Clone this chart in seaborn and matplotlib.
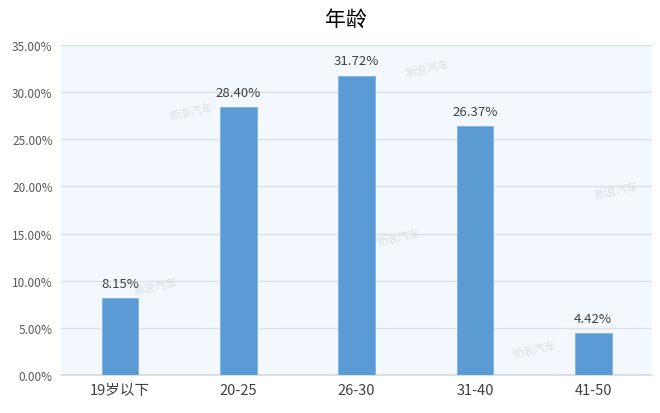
import matplotlib
matplotlib.use('Agg')
import matplotlib.pyplot as plt
import seaborn as sns
import pandas as pd
from matplotlib.ticker import FuncFormatter

# 数据
categories = ['19岁以下', '20-25', '26-30', '31-40', '41-50']
values = [8.15, 28.40, 31.72, 26.37, 4.42]
y_ticks = [0, 5, 10, 15, 20, 25, 30, 35]

sns.set_theme(style='white')
plt.rcParams['font.family'] = ['Noto Sans CJK SC', 'DejaVu Sans']

df = pd.DataFrame({'age': categories, 'pct': values})

fig = plt.figure(figsize=(6.6, 4.14), dpi=100)
ax = fig.add_axes([0.0924, 0.0918, 0.896, 0.797])
ax.set_facecolor('#F3F8FE')

sns.barplot(data=df, x='age', y='pct', color='#5B9BD5', saturation=1,
            width=0.31, ax=ax, edgecolor='#7FB2E0', linewidth=0.6, zorder=3)

ax.set_ylim(0, 35)
ax.set_xlim(-0.5, len(categories) - 0.5)
ax.set_yticks(y_ticks)
ax.yaxis.set_major_formatter(FuncFormatter(lambda v, p: f'{v:.2f}%'))
ax.grid(axis='y', color='#DCDFE3', linewidth=1, zorder=0)
ax.set_xlabel('')
ax.set_ylabel('')
ax.tick_params(axis='y', length=0, labelsize=8.5, labelcolor='#595959', pad=6)
ax.tick_params(axis='x', length=0, labelsize=10.5, labelcolor='#404040', pad=6)
for s in ['top', 'right', 'left']:
    ax.spines[s].set_visible(False)
ax.spines['bottom'].set_color('#D9D9D9')
ax.spines['bottom'].set_linewidth(1.2)

for i, v in enumerate(values):
    ax.text(i, v + 0.9, f'{v:.2f}%', ha='center', va='bottom',
            fontsize=9.5, color='#404040', zorder=4)

# 水印
for (wx, wy) in [(0.62, 0.93), (0.22, 0.80), (0.16, 0.27), (0.94, 0.56), (0.57, 0.42), (0.80, 0.08)]:
    ax.text(wx, wy, '新浪汽车', transform=ax.transAxes, fontsize=8,
            color='#DADFE5', rotation=12, ha='center', va='center', zorder=2)

fig.text(0.524, 0.952, '年龄', ha='center', va='center', fontsize=15, color='#000000')

fig.savefig('out.png', dpi=100)
